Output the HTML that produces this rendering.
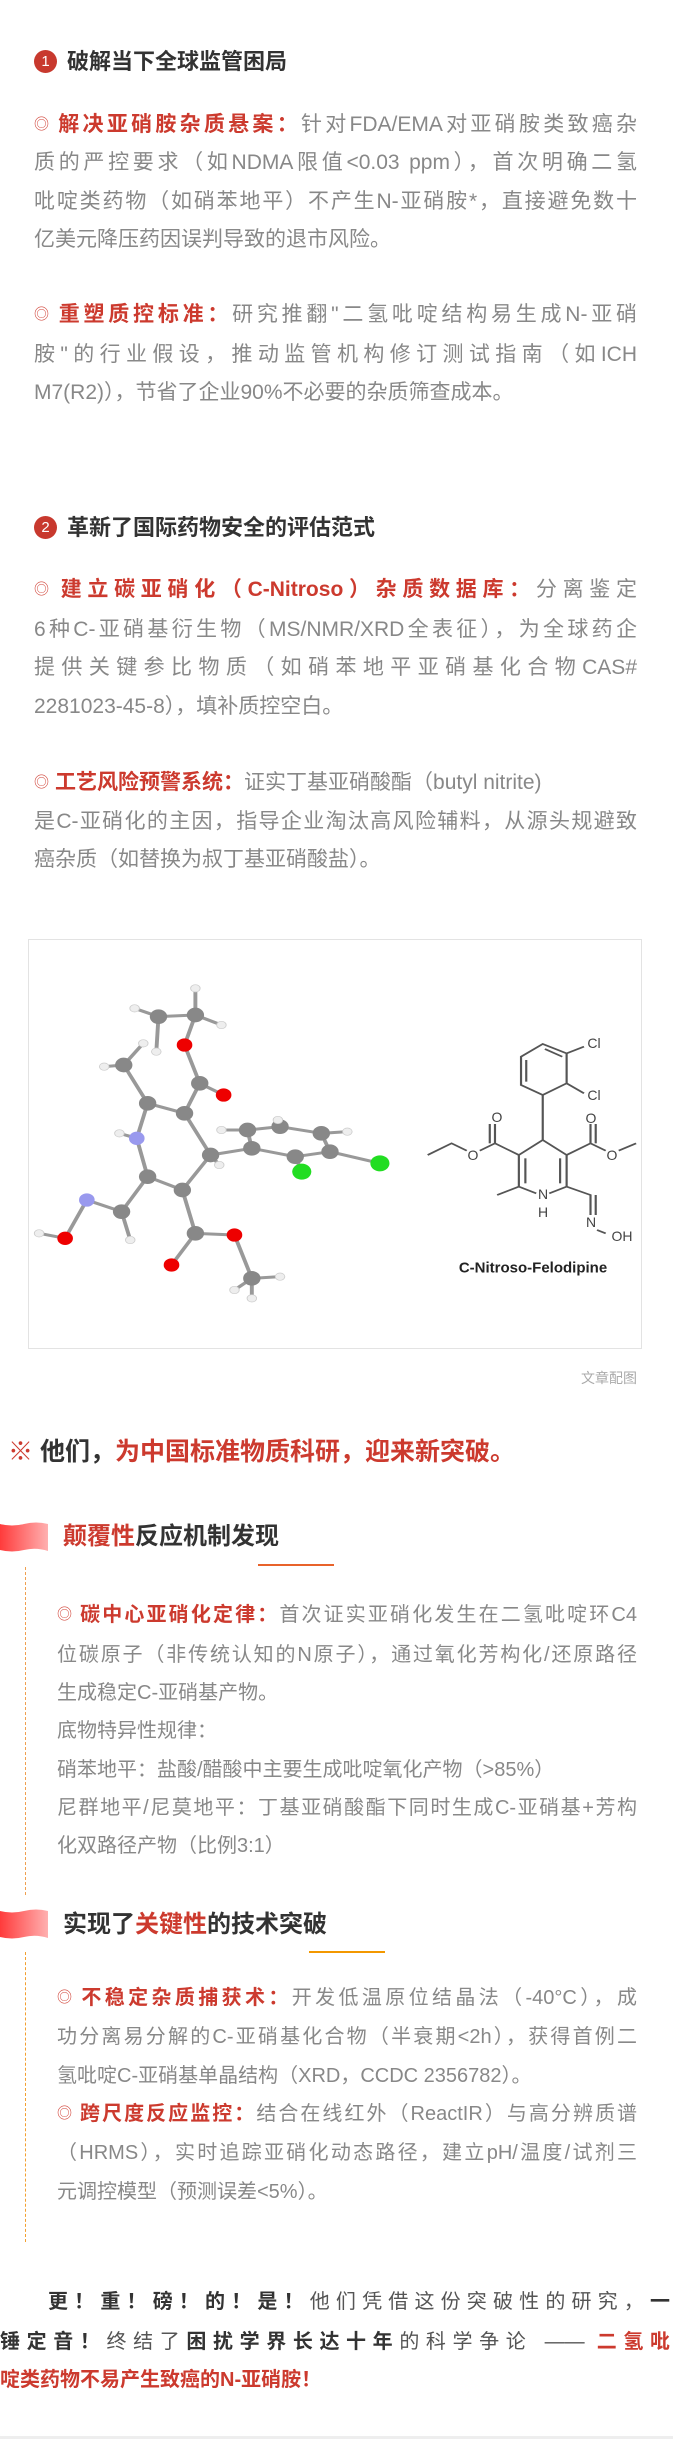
<!DOCTYPE html>
<html><head><meta charset="utf-8">
<style>
html,body{margin:0;padding:0;background:#fff;}
body{width:673px;height:2439px;position:relative;overflow:hidden;font-family:"Liberation Sans","Noto Sans CJK SC",sans-serif;}
.l{position:absolute;height:40px;line-height:40px;font-size:21px;color:#888;white-space:normal;overflow:visible;}
.s1{left:34px;width:603px;}
.s2{left:57px;width:580px;font-size:20px;}
.j{text-align:justify;text-align-last:justify;}
.r{color:#cc3a2e;font-weight:bold;}
.d{color:#333;font-weight:bold;}
.o{color:#d2453a;font-size:15px;vertical-align:2px;margin-right:6px;font-weight:normal;}
.h{position:absolute;height:40px;line-height:40px;font-size:22px;font-weight:bold;color:#333;}
.num{display:inline-block;width:23px;height:23px;border-radius:50%;background:#c8392e;color:#fff;font-size:15px;line-height:23px;text-align:center;vertical-align:3px;margin-right:10px;font-weight:normal;}
.dash{position:absolute;left:25px;width:0;border-left:1px dashed #f0a050;}
.mol{position:absolute;font-family:"Liberation Sans",sans-serif;color:#444;font-size:14px;transform:translate(-50%,-50%);}
</style></head><body>

<div class="h" style="left:34px;top:42px;"><span class="num">1</span>破解当下全球监管困局</div>
<div class="l s1 j" style="top:105px;"><span class="o">◎</span><span class="r">解决亚硝胺杂质悬案：</span>针对FDA/EMA对亚硝胺类致癌杂</div>
<div class="l s1 j" style="top:143px;">质的严控要求（如NDMA限值&lt;0.03 ppm），首次明确二氢</div>
<div class="l s1 j" style="top:182px;">吡啶类药物（如硝苯地平）不产生N-亚硝胺*，直接避免数十</div>
<div class="l s1" style="top:220px;">亿美元降压药因误判导致的退市风险。</div>

<div class="l s1 j" style="top:295px;"><span class="o">◎</span><span class="r">重塑质控标准：</span>研究推翻"二氢吡啶结构易生成N-亚硝</div>
<div class="l s1 j" style="top:335px;">胺"的行业假设，推动监管机构修订测试指南（如ICH</div>
<div class="l s1" style="top:373px;">M7(R2)），节省了企业90%不必要的杂质筛查成本。</div>

<div class="h" style="left:34px;top:508px;"><span class="num">2</span>革新了国际药物安全的评估范式</div>
<div class="l s1 j" style="top:570px;"><span class="o">◎</span><span class="r">建立碳亚硝化（C-Nitroso）杂质数据库：</span>分离鉴定</div>
<div class="l s1 j" style="top:610px;">6种C-亚硝基衍生物（MS/NMR/XRD全表征），为全球药企</div>
<div class="l s1 j" style="top:648px;">提供关键参比物质（如硝苯地平亚硝基化合物CAS#</div>
<div class="l s1" style="top:687px;">2281023-45-8），填补质控空白。</div>

<div class="l s1" style="top:763px;"><span class="o">◎</span><span class="r">工艺风险预警系统：</span>证实丁基亚硝酸酯（butyl nitrite)</div>
<div class="l s1 j" style="top:802px;">是C-亚硝化的主因，指导企业淘汰高风险辅料，从源头规避致</div>
<div class="l s1" style="top:840px;">癌杂质（如替换为叔丁基亚硝酸盐）。</div>

<div style="position:absolute;left:28px;top:939px;width:612px;height:408px;border:1px solid #e3e3e3;"></div>
<svg style="position:absolute;left:0;top:900px;" width="673" height="500" viewBox="0 0 1550 1500" preserveAspectRatio="none">
<g stroke="#999" stroke-width="9" stroke-linecap="round">
<line x1="365" y1="350" x2="450" y2="345"/><line x1="365" y1="350" x2="310" y2="325"/><line x1="365" y1="350" x2="360" y2="455"/>
<line x1="450" y1="345" x2="450" y2="265"/><line x1="450" y1="345" x2="510" y2="375"/><line x1="450" y1="345" x2="425" y2="435"/>
<line x1="425" y1="435" x2="460" y2="550"/><line x1="460" y1="550" x2="515" y2="585"/><line x1="460" y1="550" x2="425" y2="640"/>
<line x1="285" y1="495" x2="240" y2="500"/><line x1="285" y1="495" x2="330" y2="430"/><line x1="285" y1="495" x2="340" y2="610"/>
<line x1="340" y1="610" x2="425" y2="640"/><line x1="340" y1="610" x2="315" y2="715"/><line x1="315" y1="715" x2="275" y2="700"/>
<line x1="315" y1="715" x2="340" y2="830"/><line x1="425" y1="640" x2="485" y2="765"/><line x1="485" y1="765" x2="420" y2="870"/>
<line x1="485" y1="765" x2="505" y2="795"/><line x1="485" y1="765" x2="580" y2="745"/><line x1="340" y1="830" x2="420" y2="870"/>
<line x1="340" y1="830" x2="280" y2="935"/><line x1="280" y1="935" x2="200" y2="900"/><line x1="280" y1="935" x2="300" y2="1020"/>
<line x1="200" y1="900" x2="150" y2="1015"/><line x1="150" y1="1015" x2="90" y2="1000"/><line x1="420" y1="870" x2="450" y2="1000"/>
<line x1="450" y1="1000" x2="540" y2="1005"/><line x1="450" y1="1000" x2="395" y2="1095"/><line x1="540" y1="1005" x2="580" y2="1135"/>
<line x1="580" y1="1135" x2="540" y2="1170"/><line x1="580" y1="1135" x2="580" y2="1195"/><line x1="580" y1="1135" x2="645" y2="1130"/>
<line x1="580" y1="745" x2="570" y2="690"/><line x1="570" y1="690" x2="510" y2="690"/><line x1="570" y1="690" x2="645" y2="680"/>
<line x1="645" y1="680" x2="640" y2="660"/><line x1="645" y1="680" x2="740" y2="700"/><line x1="740" y1="700" x2="800" y2="695"/>
<line x1="740" y1="700" x2="760" y2="755"/><line x1="760" y1="755" x2="875" y2="790"/><line x1="760" y1="755" x2="680" y2="770"/>
<line x1="680" y1="770" x2="580" y2="745"/><line x1="680" y1="770" x2="695" y2="815"/>
</g>
<g fill="#888"><ellipse cx="365" cy="350" rx="20" ry="22"/><ellipse cx="450" cy="345" rx="20" ry="22"/><ellipse cx="285" cy="495" rx="20" ry="22"/><ellipse cx="460" cy="550" rx="20" ry="22"/><ellipse cx="340" cy="610" rx="20" ry="22"/><ellipse cx="425" cy="640" rx="20" ry="22"/><ellipse cx="485" cy="765" rx="20" ry="22"/><ellipse cx="340" cy="830" rx="20" ry="22"/><ellipse cx="420" cy="870" rx="20" ry="22"/><ellipse cx="280" cy="935" rx="20" ry="22"/><ellipse cx="450" cy="1000" rx="20" ry="22"/><ellipse cx="580" cy="1135" rx="20" ry="22"/><ellipse cx="570" cy="690" rx="20" ry="22"/><ellipse cx="645" cy="680" rx="20" ry="22"/><ellipse cx="740" cy="700" rx="20" ry="22"/><ellipse cx="760" cy="755" rx="20" ry="22"/><ellipse cx="680" cy="770" rx="20" ry="22"/><ellipse cx="580" cy="745" rx="20" ry="22"/></g>
<g fill="#e00"><ellipse cx="425" cy="435" rx="18" ry="20"/><ellipse cx="515" cy="585" rx="18" ry="20"/><ellipse cx="540" cy="1005" rx="18" ry="20"/><ellipse cx="395" cy="1095" rx="18" ry="20"/><ellipse cx="150" cy="1015" rx="18" ry="20"/></g>
<g><ellipse cx="315" cy="715" rx="18" ry="20" fill="#9999ee"/><ellipse cx="200" cy="900" rx="18" ry="20" fill="#9999ee"/></g>
<g fill="#2d2"><ellipse cx="695" cy="815" rx="22" ry="24"/><ellipse cx="875" cy="790" rx="22" ry="24"/></g>
<g fill="#eee" stroke="#ccc" stroke-width="2"><circle cx="310" cy="325" r="11"/><circle cx="450" cy="265" r="11"/><circle cx="510" cy="375" r="11"/><circle cx="360" cy="455" r="11"/><circle cx="330" cy="430" r="11"/><circle cx="240" cy="500" r="11"/><circle cx="275" cy="700" r="11"/><circle cx="510" cy="690" r="11"/><circle cx="505" cy="795" r="11"/><circle cx="300" cy="1020" r="11"/><circle cx="90" cy="1000" r="11"/><circle cx="640" cy="660" r="11"/><circle cx="800" cy="695" r="11"/><circle cx="540" cy="1170" r="11"/><circle cx="580" cy="1195" r="11"/><circle cx="645" cy="1130" r="11"/></g>
<g stroke="#555" stroke-width="5" fill="none">
<polygon points="1200,470 1250,432 1305,460 1305,550 1250,585 1200,555"/>
<line x1="1212" y1="480" x2="1212" y2="545"/><line x1="1255" y1="447" x2="1295" y2="470"/>
<line x1="1305" y1="460" x2="1345" y2="440"/><line x1="1305" y1="550" x2="1345" y2="580"/>
<line x1="1250" y1="585" x2="1250" y2="720"/>
<polyline points="1250,720 1305,765 1305,860 1265,880"/><polyline points="1235,880 1195,860 1195,765 1250,720"/>
<line x1="1290" y1="775" x2="1290" y2="850"/><line x1="1210" y1="775" x2="1210" y2="850"/>
<line x1="1195" y1="765" x2="1140" y2="730"/><line x1="1140" y1="730" x2="1140" y2="672"/><line x1="1128" y1="730" x2="1128" y2="672"/>
<line x1="1140" y1="730" x2="1105" y2="752"/><polyline points="1075,752 1040,730 985,765"/>
<line x1="1305" y1="765" x2="1360" y2="730"/><line x1="1360" y1="730" x2="1360" y2="672"/><line x1="1372" y1="730" x2="1372" y2="672"/>
<line x1="1360" y1="730" x2="1395" y2="752"/><line x1="1425" y1="752" x2="1465" y2="730"/>
<line x1="1195" y1="860" x2="1145" y2="885"/><polyline points="1305,860 1360,885 1360,945"/><line x1="1372" y1="885" x2="1372" y2="945"/>
<line x1="1375" y1="990" x2="1395" y2="1000"/>
</g>
</svg>
<div class="mol" style="left:594px;top:1043px;">Cl</div>
<div class="mol" style="left:594px;top:1095px;">Cl</div>
<div class="mol" style="left:497px;top:1117px;">O</div>
<div class="mol" style="left:591px;top:1118px;">O</div>
<div class="mol" style="left:473px;top:1155px;">O</div>
<div class="mol" style="left:612px;top:1155px;">O</div>
<div class="mol" style="left:543px;top:1194px;">N</div>
<div class="mol" style="left:543px;top:1212px;">H</div>
<div class="mol" style="left:591px;top:1222px;">N</div>
<div class="mol" style="left:622px;top:1236px;">OH</div>
<div class="mol" style="left:533px;top:1268px;font-weight:bold;color:#222;font-size:15px;white-space:nowrap;">C-Nitroso-Felodipine</div>

<div class="l" style="right:36px;top:1358px;font-size:14px;color:#aaa;">文章配图</div>

<div class="l" style="left:8px;top:1432px;font-size:25px;font-weight:bold;color:#333;"><span style="color:#cc3a2e;">※</span> 他们，<span style="color:#cc3a2e;">为中国标准物质科研，迎来新突破。</span></div>

<svg style="position:absolute;left:0;top:1521px;" width="50" height="32" viewBox="0 0 50 32"><defs><linearGradient id="g1"><stop offset="0" stop-color="#ff3b3b"/><stop offset="1" stop-color="#ffb0b0"/></linearGradient></defs><path d="M0 3 Q12 6 24 3 T48 3 L48 30 Q36 26 24 29 T0 29 Z" fill="url(#g1)"/></svg>
<div class="h" style="left:63px;top:1517px;font-size:24px;"><span style="color:#cc3a2e;">颠覆性</span>反应机制发现</div>
<div style="position:absolute;left:258px;top:1564px;width:76px;height:1.5px;background:#e8632b;"></div>
<div class="dash" style="top:1567px;height:328px;"></div>

<div class="l s2 j" style="top:1595px;"><span class="o">◎</span><span class="r">碳中心亚硝化定律：</span>首次证实亚硝化发生在二氢吡啶环C4</div>
<div class="l s2 j" style="top:1635px;">位碳原子（非传统认知的N原子），通过氧化芳构化/还原路径</div>
<div class="l s2" style="top:1673px;">生成稳定C-亚硝基产物。</div>
<div class="l s2" style="top:1711px;">底物特异性规律：</div>
<div class="l s2" style="top:1750px;">硝苯地平：盐酸/醋酸中主要生成吡啶氧化产物（&gt;85%）</div>
<div class="l s2 j" style="top:1788px;">尼群地平/尼莫地平：丁基亚硝酸酯下同时生成C-亚硝基+芳构</div>
<div class="l s2" style="top:1826px;">化双路径产物（比例3:1）</div>

<svg style="position:absolute;left:0;top:1908px;" width="50" height="32" viewBox="0 0 50 32"><defs><linearGradient id="g2"><stop offset="0" stop-color="#ff3b3b"/><stop offset="1" stop-color="#ffb0b0"/></linearGradient></defs><path d="M0 3 Q12 6 24 3 T48 3 L48 30 Q36 26 24 29 T0 29 Z" fill="url(#g2)"/></svg>
<div class="h" style="left:63px;top:1905px;font-size:24px;">实现了<span style="color:#cc3a2e;">关键性</span>的技术突破</div>
<div style="position:absolute;left:309px;top:1951px;width:76px;height:2px;background:#f39800;"></div>
<div class="dash" style="top:1952px;height:290px;border-color:#f3a030;"></div>

<div class="l s2 j" style="top:1978px;"><span class="o">◎</span><span class="r">不稳定杂质捕获术：</span>开发低温原位结晶法（-40°C），成</div>
<div class="l s2 j" style="top:2017px;">功分离易分解的C-亚硝基化合物（半衰期&lt;2h），获得首例二</div>
<div class="l s2" style="top:2056px;">氢吡啶C-亚硝基单晶结构（XRD，CCDC 2356782）。</div>
<div class="l s2 j" style="top:2094px;"><span class="o">◎</span><span class="r">跨尺度反应监控：</span>结合在线红外（ReactIR）与高分辨质谱</div>
<div class="l s2 j" style="top:2133px;">（HRMS），实时追踪亚硝化动态路径，建立pH/温度/试剂三</div>
<div class="l s2" style="top:2172px;">元调控模型（预测误差&lt;5%）。</div>

<div class="l j" style="left:48px;width:622px;top:2282px;font-size:20px;color:#555;"><span class="d">更！重！磅！的！是！</span>他们凭借这份突破性的研究，<span class="d">一</span></div>
<div class="l j" style="left:0;width:670px;top:2322px;font-size:20px;color:#555;"><span class="d">锤定音！</span>终结了<span class="d">困扰学界长达十年</span>的科学争论 —— <span class="r">二氢吡</span></div>
<div class="l" style="left:0;width:670px;top:2360px;font-size:20px;"><span class="r">啶类药物不易产生致癌的N-亚硝胺！</span></div>

<div style="position:absolute;left:0;top:2436px;width:673px;height:3px;background:#eee;"></div>
</body></html>
